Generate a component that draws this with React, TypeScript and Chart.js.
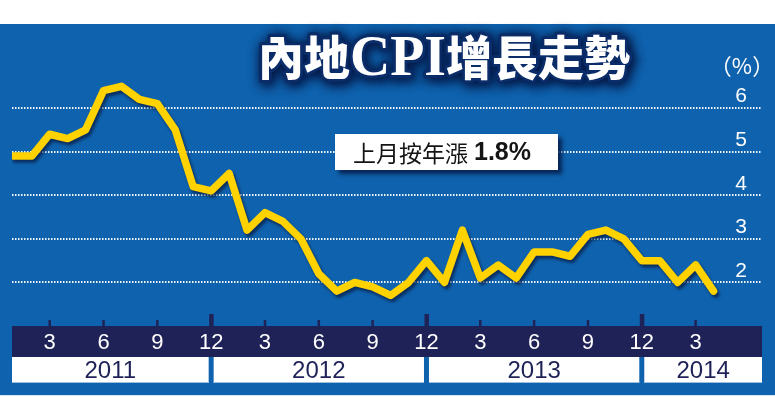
import React, { useEffect, useRef } from "react";
import { Chart, registerables } from "chart.js";

Chart.register(...registerables);

// CPI year-on-year growth (%) by month
const cpi2011 = [4.9, 4.9, 5.4, 5.3, 5.5, 6.4, 6.5, 6.2, 6.1, 5.5, 4.2, 4.1];
const cpi2012 = [4.5, 3.2, 3.6, 3.4, 3.0, 2.2, 1.8, 2.0, 1.9, 1.7, 2.0, 2.5];
const cpi2013 = [2.0, 3.2, 2.1, 2.4, 2.1, 2.7, 2.7, 2.6, 3.1, 3.2, 3.0, 2.5];
const cpi2014 = [2.5, 2.0, 2.4, 1.8];
const years = ["2011", "2012", "2013", "2014"];
const monthTicks = [3, 6, 9, 12];
const yTicks = [2, 3, 4, 5, 6];
const titleParts = ["內地", "CPI", "增長走勢"];
const unitLabel = "（%）";
const noteText = "上月按年漲";
const noteValue = "1.8%";

const W = 775;
const H = 397;
const BLUE = "#0f62ad";
const NAVY = "#1e2257";
const YELLOW = "#ffd200";

const series = [...cpi2011, ...cpi2012, ...cpi2013, ...cpi2014];
const points = series.map((v, i) => ({ x: i, y: v }));

const bgPlugin = {
  id: "bg",
  beforeDraw(chart: any) {
    const { ctx, chartArea, scales } = chart;
    const xs = scales.x;
    ctx.save();
    ctx.fillStyle = "#ffffff";
    ctx.fillRect(0, 0, W, H);
    ctx.fillStyle = BLUE;
    ctx.fillRect(0, 24, W, 371);
    ctx.fillStyle = "#d8e6f3";
    ctx.fillRect(0, 395, W, 1);

    // navy month band
    const bandTop = chartArea.bottom;
    const bandBottom = bandTop + 31;
    ctx.fillStyle = NAVY;
    ctx.fillRect(chartArea.left, bandTop, chartArea.right - chartArea.left, bandBottom - bandTop);

    // tick marks
    for (let i = 0; i < series.length; i++) {
      const m = (i % 12) + 1;
      if (!monthTicks.includes(m)) continue;
      const px = xs.getPixelForValue(i);
      if (m === 12) {
        ctx.fillRect(px - 2, bandTop - 12, 4.5, 12);
      } else {
        ctx.fillRect(px - 1.25, bandTop - 6, 2.5, 6);
      }
    }

    // year boxes
    const boxTop = bandBottom;
    const boxH = 26;
    ctx.textAlign = "center";
    ctx.textBaseline = "middle";
    ctx.font = '24px "Liberation Sans", Arial, sans-serif';
    years.forEach((yr, k) => {
      const startIdx = k * 12 - 1;
      const endIdx = k * 12 + 11;
      const left = k === 0 ? chartArea.left : xs.getPixelForValue(startIdx) + 2.5;
      const right = endIdx >= series.length ? chartArea.right : xs.getPixelForValue(endIdx) - 2.5;
      ctx.fillStyle = "#ffffff";
      ctx.fillRect(left, boxTop, right - left, boxH);
      ctx.fillStyle = "#9ec0e0";
      ctx.fillRect(left, boxTop + boxH - 1, right - left, 1);
      ctx.fillStyle = NAVY;
      ctx.fillText(yr, (left + right) / 2, boxTop + boxH / 2 + 1);
    });
    ctx.restore();
  },
  beforeDatasetsDraw(chart: any) {
    const ctx = chart.ctx;
    ctx.save();
    ctx.shadowColor = "rgba(8,28,70,0.75)";
    ctx.shadowBlur = 3;
    ctx.shadowOffsetX = 2;
    ctx.shadowOffsetY = 3;
  },
  afterDatasetsDraw(chart: any) {
    chart.ctx.restore();
  },
  afterDraw(chart: any) {
    const ctx = chart.ctx;
    // title
    ctx.save();
    const fonts = [
      '900 47px "Noto Sans CJK TC", sans-serif',
      'bold 57px "Liberation Serif", serif',
      '900 47px "Noto Sans CJK TC", sans-serif',
    ];
    const widths: number[] = [];
    let total = 0;
    titleParts.forEach((t, k) => {
      ctx.font = fonts[k];
      const w = ctx.measureText(t).width;
      widths.push(w);
      total += w;
    });
    const sx = 372 / total;
    ctx.translate(258, 75);
    ctx.scale(sx, 1);
    ctx.textAlign = "left";
    ctx.textBaseline = "alphabetic";
    // glow pass
    ctx.shadowColor = "rgba(4,24,70,1)";
    ctx.shadowBlur = 12;
    ctx.shadowOffsetX = 2;
    ctx.shadowOffsetY = 2;
    ctx.strokeStyle = "#0a2c68";
    ctx.lineWidth = 6;
    ctx.lineJoin = "round";
    for (let pass = 0; pass < 2; pass++) {
      let x0 = 0;
      titleParts.forEach((t, k) => {
        ctx.font = fonts[k];
        ctx.strokeText(t, x0, 0);
        x0 += widths[k];
      });
    }
    ctx.shadowColor = "transparent";
    ctx.shadowBlur = 0;
    ctx.shadowOffsetX = 0;
    ctx.shadowOffsetY = 0;
    ctx.fillStyle = "#ffffff";
    let x = 0;
    titleParts.forEach((t, k) => {
      ctx.font = fonts[k];
      ctx.fillText(t, x, 0);
      x += widths[k];
    });
    ctx.restore();

    // unit label
    ctx.save();
    ctx.fillStyle = "#ffffff";
    ctx.font = '22px "Noto Sans CJK TC", sans-serif';
    ctx.textAlign = "center";
    ctx.textBaseline = "middle";
    ctx.fillText(unitLabel, 742, 66);
    ctx.restore();

    // note box
    ctx.save();
    ctx.shadowColor = "rgba(6,26,72,0.85)";
    ctx.shadowBlur = 4;
    ctx.shadowOffsetX = 4;
    ctx.shadowOffsetY = 4;
    ctx.fillStyle = "#ffffff";
    ctx.fillRect(335, 134, 223, 36);
    ctx.restore();
    ctx.save();
    ctx.fillStyle = "#141414";
    ctx.textAlign = "left";
    ctx.textBaseline = "middle";
    ctx.font = '23px "Noto Sans CJK TC", sans-serif';
    ctx.fillText(noteText, 353, 153);
    const nw = ctx.measureText(noteText).width;
    ctx.font = 'bold 25px "Liberation Sans", Arial, sans-serif';
    ctx.fillText(noteValue, 353 + nw + 6, 153);
    ctx.restore();
  },
};

export default function App() {
  const ref = useRef<HTMLCanvasElement | null>(null);
  useEffect(() => {
    if (!ref.current) return;
    const chart = new Chart(ref.current, {
      type: "line",
      data: {
        datasets: [
          {
            data: points,
            borderColor: YELLOW,
            borderWidth: 7.5,
            pointRadius: 0,
            borderJoinStyle: "round",
            borderCapStyle: "round",
            tension: 0,
            fill: false,
          },
        ],
      },
      options: {
        responsive: false,
        animation: false,
        devicePixelRatio: 1,
        layout: { padding: { left: 12, right: 13, top: 0, bottom: 40 } },
        plugins: { legend: { display: false }, tooltip: { enabled: false }, title: { display: false } },
        scales: {
          x: {
            type: "linear",
            position: "bottom",
            min: -0.1,
            max: 41.7,
            afterBuildTicks: (s: any) => {
              const t: any[] = [];
              for (let i = 0; i < series.length; i++) {
                if (monthTicks.includes((i % 12) + 1)) t.push({ value: i });
              }
              s.ticks = t;
            },
            afterFit: (s: any) => {
              s.height = 31;
            },
            ticks: {
              color: "#ffffff",
              font: { family: '"Liberation Sans", Arial, sans-serif', size: 22 },
              padding: 4,
              maxRotation: 0,
              autoSkip: false,
              callback: (v: any) => String((Number(v) % 12) + 1),
            },
            grid: { display: false, drawTicks: false },
            border: { display: false },
          },
          y: {
            position: "right",
            min: 1,
            max: 8.48,
            afterBuildTicks: (s: any) => {
              s.ticks = yTicks.map((v) => ({ value: v }));
            },
            afterFit: (s: any) => {
              s.width = 0;
            },
            ticks: {
              mirror: true,
              padding: -15,
              labelOffset: -11.5,
              color: "#ffffff",
              font: { family: '"Liberation Sans", Arial, sans-serif', size: 21 },
            },
            grid: { color: "rgba(255,255,255,0.95)", lineWidth: 2, drawTicks: false },
            border: { display: false, dash: [1.5, 1.5] },
          },
        },
      } as any,
      plugins: [bgPlugin],
    });
    return () => chart.destroy();
  }, []);
  return (
    <div style={{ position: "absolute", left: 0, top: 0, width: W, height: H }}>
      <canvas ref={ref} width={W} height={H} style={{ display: "block", width: W, height: H }} />
    </div>
  );
}
